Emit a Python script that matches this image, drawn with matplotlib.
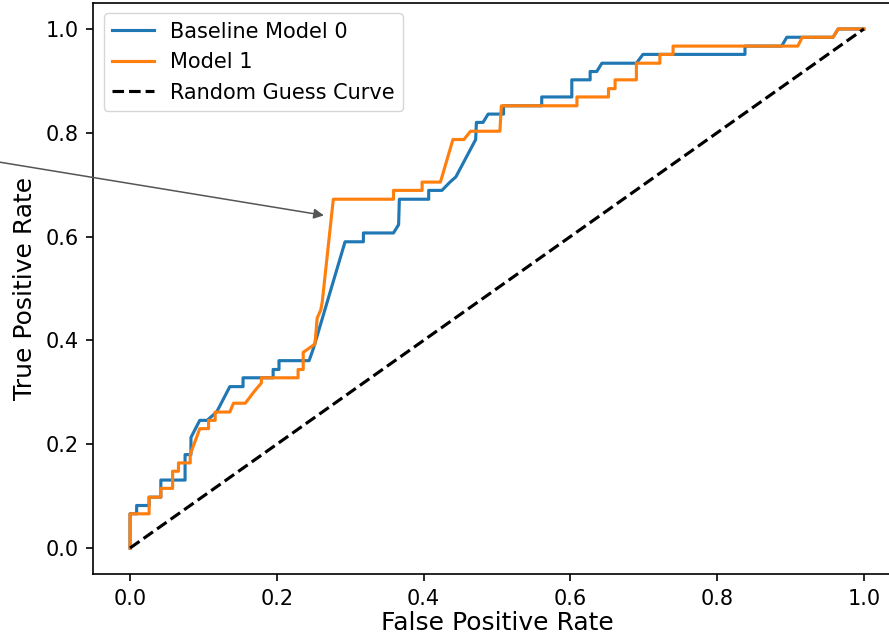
import matplotlib
matplotlib.use("Agg")
import matplotlib.pyplot as plt

# the reference looks like a default plot rendered at 1.5x scale
plt.rcParams.update({"font.size": 15, "lines.linewidth": 2.25,
                     "axes.linewidth": 1.2, "axes.labelpad": 6,
                     "xtick.major.size": 5.25, "ytick.major.size": 5.25,
                     "xtick.major.pad": 5.25, "ytick.major.pad": 5.25,
                     "xtick.major.width": 1.2, "ytick.major.width": 1.2})

# ROC points
fpr_base = [0, 0, 0.009, 0.009, 0.026, 0.026, 0.042, 0.042, 0.075, 0.075, 0.083, 0.083,
            0.095, 0.105, 0.118, 0.136, 0.154, 0.154, 0.195, 0.195, 0.203, 0.203, 0.244,
            0.250, 0.293, 0.318, 0.318, 0.359, 0.366, 0.367, 0.407, 0.407, 0.425, 0.436,
            0.444, 0.471, 0.472, 0.481, 0.488, 0.509, 0.509, 0.561, 0.561, 0.602, 0.602,
            0.627, 0.627, 0.636, 0.643, 0.690, 0.699, 0.838, 0.838, 0.888, 0.895, 0.958,
            0.965, 1.0]
tpr_base = [0, 0.066, 0.066, 0.082, 0.082, 0.098, 0.098, 0.131, 0.131, 0.180, 0.180, 0.213,
            0.246, 0.246, 0.262, 0.311, 0.311, 0.328, 0.328, 0.344, 0.344, 0.361, 0.361,
            0.385, 0.590, 0.590, 0.607, 0.607, 0.623, 0.672, 0.672, 0.689, 0.689, 0.705,
            0.715, 0.787, 0.820, 0.820, 0.836, 0.836, 0.852, 0.852, 0.869, 0.869, 0.902,
            0.902, 0.918, 0.918, 0.934, 0.934, 0.951, 0.951, 0.967, 0.967, 0.984, 0.984,
            1.0, 1.0]

fpr_m1 = [0, 0, 0.026, 0.026, 0.042, 0.042, 0.058, 0.058, 0.066, 0.066, 0.082, 0.082,
          0.095, 0.107, 0.107, 0.116, 0.116, 0.136, 0.141, 0.157, 0.170, 0.179, 0.179,
          0.229, 0.229, 0.236, 0.236, 0.252, 0.255, 0.260, 0.262, 0.277, 0.359, 0.359,
          0.398, 0.398, 0.423, 0.440, 0.455, 0.464, 0.504, 0.506, 0.609, 0.609, 0.652,
          0.652, 0.661, 0.661, 0.690, 0.690, 0.722, 0.722, 0.740, 0.740, 0.910, 0.916,
          0.958, 0.965, 1.0]
tpr_m1 = [0, 0.066, 0.066, 0.098, 0.098, 0.115, 0.115, 0.148, 0.148, 0.164, 0.164, 0.180,
          0.230, 0.230, 0.246, 0.246, 0.262, 0.262, 0.279, 0.279, 0.303, 0.318, 0.328,
          0.328, 0.344, 0.344, 0.377, 0.393, 0.443, 0.459, 0.475, 0.672, 0.672, 0.689,
          0.689, 0.705, 0.705, 0.787, 0.787, 0.803, 0.803, 0.852, 0.852, 0.869, 0.869,
          0.885, 0.885, 0.902, 0.902, 0.934, 0.934, 0.951, 0.951, 0.967, 0.967, 0.984,
          0.984, 1.0, 1.0]

fig = plt.figure(figsize=(8.89, 6.38), dpi=100)
ax = fig.add_axes([0.105, 0.1003, 0.908, 0.895])
ax.plot(fpr_base, tpr_base, label="Baseline Model 0")
ax.plot(fpr_m1, tpr_m1, label="Model 1")
ax.plot([0, 1], [0, 1], "k--", label="Random Guess Curve")
# the annotation text sits outside the cropped picture, only the arrow shows
ax.annotate("", xy=(0.268, 0.64), xytext=(-0.40, 0.795),
            arrowprops=dict(arrowstyle="-|>", color="#555555", lw=1.1, mutation_scale=15))
ax.set_xlabel("False Positive Rate", fontsize=18, labelpad=2)
ax.set_ylabel("True Positive Rate", fontsize=18)
ax.legend(loc="upper left", fontsize=15)
fig.savefig("out.png", dpi=100)
